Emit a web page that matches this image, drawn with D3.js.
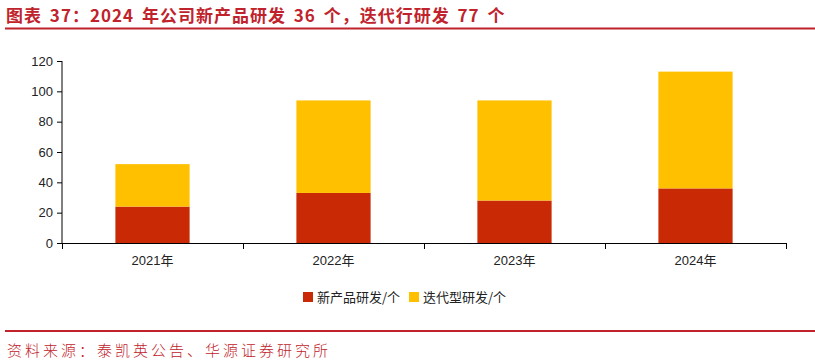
<!DOCTYPE html>
<html>
<head>
<meta charset="utf-8">
<script src="https://cdn.jsdelivr.net/npm/d3@7"></script>
<style>
  body { margin: 0; background: #fff; }
  svg { display: block; }
</style>
</head>
<body>
<div id="chart"></div>
<script>
"use strict";

// data
var years = ["2021年", "2022年", "2023年", "2024年"];
var newProducts = [24, 33, 28, 36];
var iterations = [28, 61, 66, 77];
var seriesNames = ["新产品研发/个", "迭代型研发/个"];
var yTicks = [0, 20, 40, 60, 80, 100, 120];

var W = 815, H = 364;
var red = "#C0232C";
var colors = ["#C92A05", "#FFC000"];

var svg = d3.select("#chart").append("svg")
    .attr("width", W)
    .attr("height", H);

// title + rules
svg.append("text")
    .attr("x", 6)
    .attr("y", 22)
    .attr("fill", red)
    .attr("font-family", "'Noto Sans CJK SC', sans-serif")
    .attr("font-weight", "bold")
    .attr("font-size", 17)
    .attr("letter-spacing", 1)
    .attr("word-spacing", 3)
    .text("图表 37：2024 年公司新产品研发 36 个，迭代行研发 77 个");

svg.append("line")
    .attr("x1", 5).attr("x2", W)
    .attr("y1", 28.5).attr("y2", 28.5)
    .attr("stroke", red)
    .attr("stroke-width", 2);

svg.append("line")
    .attr("x1", 5).attr("x2", W)
    .attr("y1", 331).attr("y2", 331)
    .attr("stroke", red)
    .attr("stroke-width", 2);

svg.append("text")
    .attr("x", 7)
    .attr("y", 356)
    .attr("fill", red)
    .attr("font-family", "'Noto Sans CJK SC', sans-serif")
    .attr("font-weight", 300)
    .attr("font-size", 15)
    .attr("letter-spacing", 3)
    .text("资料来源：泰凯英公告、华源证券研究所");

// plot
var margin = {left: 62, right: 29, top: 61, bottom: 121};
var width = W - margin.left - margin.right;
var height = H - margin.top - margin.bottom;

var g = svg.append("g")
    .attr("transform", "translate(" + margin.left + "," + margin.top + ")");

var x = d3.scaleBand().domain(years).range([0, width]).padding(0);
var y = d3.scaleLinear().domain([0, 120]).range([height, 0]);

var rows = years.map(function(yr, i) {
    return {year: yr, a: newProducts[i], b: iterations[i]};
});
var stacked = d3.stack().keys(["a", "b"])(rows);

var barW = x.bandwidth() * 0.41;

g.selectAll(".series")
    .data(stacked)
    .enter().append("g")
    .attr("fill", function(d, i) { return colors[i]; })
    .selectAll("rect")
    .data(function(d) { return d; })
    .enter().append("rect")
    .attr("x", function(d) { return x(d.data.year) + (x.bandwidth() - barW) / 2; })
    .attr("y", function(d) { return y(d[1]); })
    .attr("width", barW)
    .attr("height", function(d) { return y(d[0]) - y(d[1]); });

// y axis
var yAxis = g.append("g")
    .call(d3.axisLeft(y).tickValues(yTicks).tickSize(5).tickPadding(4));
yAxis.select(".domain").attr("stroke", "#000").attr("d", "M0," + (height + 0.5) + "V0");

// x axis
var xAxis = g.append("g")
    .attr("transform", "translate(0," + height + ")")
    .call(d3.axisBottom(x).tickSize(0).tickPadding(13));
xAxis.select(".domain").attr("stroke", "#000").attr("d", "M0,0.5H" + width);

// boundary ticks between categories
g.append("g")
    .selectAll("line")
    .data(d3.range(years.length + 1))
    .enter().append("line")
    .attr("x1", function(i) { return Math.round(i * x.step()) + 0.5; })
    .attr("x2", function(i) { return Math.round(i * x.step()) + 0.5; })
    .attr("y1", height)
    .attr("y2", height + 6)
    .attr("stroke", "#000");

svg.selectAll(".tick text")
    .attr("font-family", "'Liberation Sans', Arial, 'Noto Sans CJK SC', sans-serif")
    .attr("font-size", 13)
    .attr("fill", "#222");

// legend
var legend = svg.append("g").attr("transform", "translate(303,290)");
var legendX = [0, 106];
seriesNames.forEach(function(name, i) {
    legend.append("rect")
        .attr("x", legendX[i])
        .attr("y", 2)
        .attr("width", 10)
        .attr("height", 10)
        .attr("fill", colors[i]);
    legend.append("text")
        .attr("x", legendX[i] + 14)
        .attr("y", 12)
        .attr("font-family", "'Noto Sans CJK SC', sans-serif")
        .attr("font-size", 13)
        .attr("fill", "#222")
        .text(name);
});
</script>
</body>
</html>
